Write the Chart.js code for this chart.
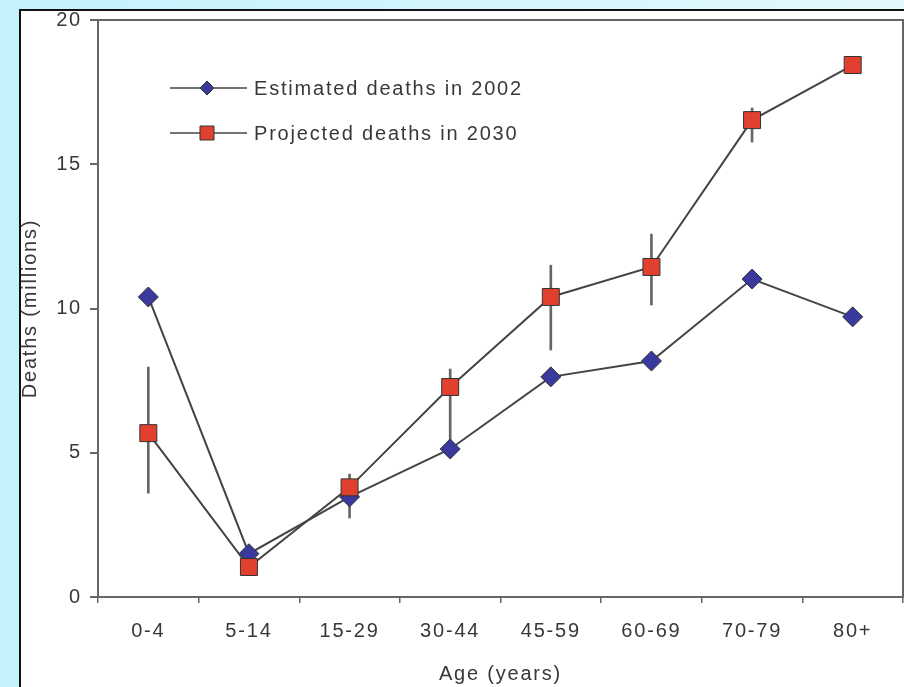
<!DOCTYPE html>
<html lang="en">
<head>
    <meta charset="UTF-8">
    <title>Deaths by age</title>
    <script src="https://cdn.jsdelivr.net/npm/chart.js"></script>
    <style>
        html, body {
            margin: 0;
            padding: 0;
            width: 904px;
            height: 687px;
            overflow: hidden;
            background: linear-gradient(to right, #c3f2fc, #e4f9fd);
        }

        .frame {
            position: absolute;
            left: 19px;
            top: 9px;
            width: 1000px;
            height: 800px;
            background: #fff;
            border-left: 2px solid #111;
            border-top: 2px solid #111;
        }

        .chart-box {
            position: absolute;
            left: 0;
            top: 0;
            width: 904px;
            height: 687px;
        }
    </style>
</head>
<body>
    <div class="frame"></div>
    <div class="chart-box">
        <canvas id="deathsChart"></canvas>
    </div>

    <script>
        // values (millions)
        const ageGroups = ['0-4', '5-14', '15-29', '30-44', '45-59', '60-69', '70-79', '80+'];
        const deaths2002 = [10.4, 1.5, 3.47, 5.13, 7.63, 8.18, 11.02, 9.71];
        const deaths2030 = [5.68, 1.04, 3.8, 7.28, 10.4, 11.44, 16.53, 18.44];
        const range2030Low = [3.6, null, 2.74, 5.2, 8.56, 10.12, 15.77, null];
        const range2030High = [7.97, null, 4.26, 7.9, 11.5, 12.58, 16.95, null];
        const yTicks = [0, 5, 10, 15, 20];

        const seriesLabels = ['Estimated deaths in 2002', 'Projected deaths in 2030'];
        const textColor = '#383838';
        const axisColor = '#666';
        const baseFont = { family: '"Liberation Sans", Arial, Helvetica, sans-serif', size: 20 };

        const errorBars = ageGroups.map((_, i) =>
            range2030Low[i] === null ? null : [range2030Low[i], range2030High[i]]);

        // wide letter spacing like the original print
        const spacingPlugin = {
            id: 'spacing',
            beforeDraw(chart) { chart.ctx.letterSpacing = '1.8px'; }
        };

        // box round the plot area
        const areaBorder = {
            id: 'areaBorder',
            beforeDatasetsDraw(chart) {
                const { ctx, chartArea: a } = chart;
                ctx.save();
                ctx.strokeStyle = axisColor;
                ctx.lineWidth = 2;
                ctx.strokeRect(a.left, a.top, a.right - a.left, a.bottom - a.top);
                ctx.restore();
            }
        };

        function marker(ctx, style, x, y, r, fill) {
            ctx.beginPath();
            if (style === 'rect') {
                ctx.rect(x - r, y - r, 2 * r, 2 * r);
            } else {
                ctx.moveTo(x - r, y);
                ctx.lineTo(x, y - r);
                ctx.lineTo(x + r, y);
                ctx.lineTo(x, y + r);
                ctx.closePath();
            }
            ctx.fillStyle = fill;
            ctx.fill();
            ctx.strokeStyle = '#333';
            ctx.lineWidth = 1;
            ctx.stroke();
        }

        // legend: line - marker - line, then text
        const lineLegend = {
            id: 'lineLegend',
            afterDraw(chart) {
                const ctx = chart.ctx;
                const rows = [
                    { y: 88, style: 'rectRot', r: 7, fill: chart.data.datasets[0].backgroundColor, text: chart.data.datasets[0].label },
                    { y: 133, style: 'rect', r: 7, fill: chart.data.datasets[1].backgroundColor, text: chart.data.datasets[1].label }
                ];
                ctx.save();
                rows.forEach(row => {
                    ctx.beginPath();
                    ctx.moveTo(170, row.y);
                    ctx.lineTo(247, row.y);
                    ctx.strokeStyle = '#444';
                    ctx.lineWidth = 1.5;
                    ctx.stroke();
                    marker(ctx, row.style, 207, row.y, row.r, row.fill);
                    ctx.font = `${baseFont.size}px ${baseFont.family}`;
                    ctx.fillStyle = textColor;
                    ctx.textAlign = 'left';
                    ctx.textBaseline = 'middle';
                    ctx.fillText(row.text, 254, row.y + 1);
                });
                ctx.restore();
            }
        };

        const ctx = document.getElementById('deathsChart').getContext('2d');
        new Chart(ctx, {
            type: 'line',
            data: {
                labels: ageGroups,
                datasets: [{
                    label: seriesLabels[0],
                    data: deaths2002,
                    borderColor: '#444',
                    borderWidth: 2,
                    backgroundColor: '#3a3a9e',
                    pointStyle: 'rectRot',
                    pointRadius: 10,
                    pointBorderColor: '#333',
                    pointBorderWidth: 1,
                    tension: 0,
                    order: 1
                }, {
                    label: seriesLabels[1],
                    data: deaths2030,
                    borderColor: '#444',
                    borderWidth: 2,
                    backgroundColor: '#e2402f',
                    pointStyle: 'rect',
                    pointRadius: 12,
                    pointBorderColor: '#333',
                    pointBorderWidth: 1,
                    tension: 0,
                    order: 0
                }, {
                    type: 'bar',
                    label: 'range',
                    data: errorBars,
                    backgroundColor: '#666',
                    borderWidth: 0,
                    barThickness: 2,
                    order: 2
                }]
            },
            options: {
                responsive: true,
                maintainAspectRatio: false,
                animation: false,
                layout: {
                    autoPadding: false,
                    padding: { left: 0, right: 1, top: 20, bottom: 0 }
                },
                plugins: {
                    legend: { display: false },
                    tooltip: { enabled: false }
                },
                scales: {
                    x: {
                        offset: true,
                        grid: {
                            offset: true,
                            drawOnChartArea: false,
                            drawTicks: true,
                            tickLength: 6,
                            color: axisColor,
                            lineWidth: 1.5
                        },
                        border: { color: axisColor, width: 2 },
                        ticks: { color: textColor, font: baseFont, padding: 16, maxRotation: 0 },
                        title: {
                            display: true,
                            text: 'Age (years)',
                            color: textColor,
                            font: baseFont,
                            padding: { top: 0, bottom: 1 }
                        },
                        afterFit(scale) {
                            scale.height = 90;
                            scale.paddingLeft = 0;
                            scale.paddingRight = 0;
                        }
                    },
                    y: {
                        min: 0,
                        max: 20,
                        afterBuildTicks(scale) { scale.ticks = yTicks.map(v => ({ value: v })); },
                        grid: {
                            drawOnChartArea: false,
                            drawTicks: true,
                            tickLength: 8,
                            color: axisColor,
                            lineWidth: 2
                        },
                        border: { color: axisColor, width: 2 },
                        ticks: { color: textColor, font: baseFont, padding: 8 },
                        title: {
                            display: true,
                            text: 'Deaths (millions)',
                            color: textColor,
                            font: baseFont,
                            padding: { top: 18, bottom: 0 }
                        },
                        afterFit(scale) { scale.width = 98; }
                    }
                }
            },
            plugins: [spacingPlugin, areaBorder, lineLegend]
        });
    </script>
</body>
</html>
